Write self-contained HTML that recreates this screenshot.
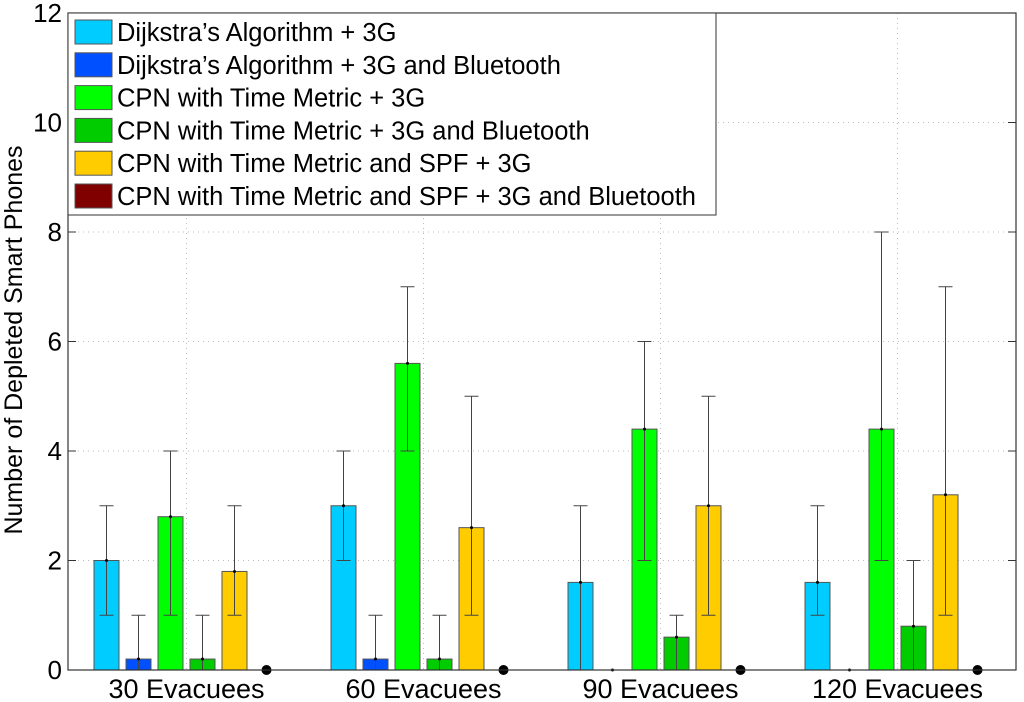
<!DOCTYPE html>
<html><head><meta charset="utf-8"><style>
body{margin:0;background:#fff;}
svg{display:block;font-family:"Liberation Sans",Arial,sans-serif;}
</style></head><body>
<svg id="chart" width="1024" height="702"></svg>
<script>
const categories=["30 Evacuees","60 Evacuees","90 Evacuees","120 Evacuees"];
const seriesNames=["Dijkstra’s Algorithm + 3G","Dijkstra’s Algorithm + 3G and Bluetooth","CPN with Time Metric + 3G","CPN with Time Metric + 3G and Bluetooth","CPN with Time Metric and SPF + 3G","CPN with Time Metric and SPF + 3G and Bluetooth"];
const seriesColors=["#00ccff","#0050ff","#00ff00","#00cc00","#ffcc00","#800000"];
const means=[[2,3,1.6,1.6],[0.2,0.2,0,0],[2.8,5.6,4.4,4.4],[0.2,0.2,0.6,0.8],[1.8,2.6,3,3.2],[0,0,0,0]];
const lows=[[1,2,0,1],[0,0,0,0],[1,4,2,2],[0,0,0,0],[1,1,1,1],[0,0,0,0]];
const highs=[[3,4,3,3],[1,1,0,0],[4,7,6,8],[1,1,1,2],[3,5,5,7],[0,0,0,0]];
const yTicks=[0,2,4,6,8,10,12];

const NS="http://www.w3.org/2000/svg";
const svg=document.getElementById("chart");
const L=68,R=1016,T=13,B=670;
const y=v=>B-(v/12)*(B-T);
const x=i=>L+(i+0.5)*(R-L)/categories.length;
const barOff=s=>(s-2.5)*32, BW=25;
function mk(tag,attrs,parent){const e=document.createElementNS(NS,tag);for(const k in attrs)e.setAttribute(k,attrs[k]);(parent||svg).appendChild(e);return e;}

yTicks.forEach(t=>{
  if(t>0&&t<12){const g=mk("line",{x1:L,x2:R,y1:y(t),y2:y(t),stroke:"#bbb","stroke-dasharray":"1,4"});
  
  }
  const tk=mk("line",{x1:L,x2:L+8,y1:y(t),y2:y(t),stroke:"#333"});
  
  
  const tk2=mk("line",{x1:R-8,x2:R,y1:y(t),y2:y(t),stroke:"#333"});
  
  
  const lb=mk("text",{x:L-6,y:y(t)+9,"text-anchor":"end","font-size":26});
  lb.textContent=t;
  
  
});
categories.forEach((c,i)=>{
  const g=mk("line",{x1:x(i),x2:x(i),y1:T,y2:B,stroke:"#bbb","stroke-dasharray":"1,4"});
  
  
  const lb=mk("text",{x:x(i),y:698,"text-anchor":"middle","font-size":27});
  lb.textContent=c;
  
  
});
means.forEach((arr,s)=>{
  arr.forEach((v,i)=>{
    const cx=x(i)+barOff(s);
    if(s===5){
      const d=mk("circle",{cx:cx,cy:y(v),r:5,fill:"#000"});
      
      
      return;
    }
    if(v>0){
      const r=mk("rect",{x:cx-BW/2,y:y(v),width:BW,height:B-y(v),fill:seriesColors[s],stroke:"#555","stroke-width":1});
      
      
    }
    if(highs[s][i]>lows[s][i]){
      const e=mk("line",{x1:cx,x2:cx,y1:y(highs[s][i]),y2:y(lows[s][i]),stroke:"#444"});
      
      
      const c1=mk("line",{x1:cx-7,x2:cx+7,y1:y(highs[s][i]),y2:y(highs[s][i]),stroke:"#444"});
      
      
      if(lows[s][i]>0){const c2=mk("line",{x1:cx-7,x2:cx+7,y1:y(lows[s][i]),y2:y(lows[s][i]),stroke:"#444"});
      
      }
    }
    const m=mk("circle",{cx:cx,cy:y(v),r:1.5,fill:"#000"});
    
    
  });
});
const box=mk("rect",{x:L,y:T,width:R-L,height:B-T,fill:"none",stroke:"#333","stroke-width":1.2});


const yt=mk("text",{x:0,y:0,"text-anchor":"middle","font-size":25,transform:"translate(22,340) rotate(-90)"});
yt.textContent="Number of Depleted Smart Phones";


const lg=mk("g",{});


const lbx=mk("rect",{x:L,y:T,width:648,height:202,fill:"#fff",stroke:"#333"},lg);


seriesNames.forEach((n,s)=>{
  const yy=T+7+s*32.8;
  const sw=mk("rect",{x:75,y:yy,width:37,height:24,fill:seriesColors[s],stroke:"#555"},lg);
  
  
  const t=mk("text",{x:117,y:yy+21,"font-size":25.5,textLength:0},lg);
  t.removeAttribute("textLength");
  t.textContent=n;
  
  
});
</script>
</body></html>
